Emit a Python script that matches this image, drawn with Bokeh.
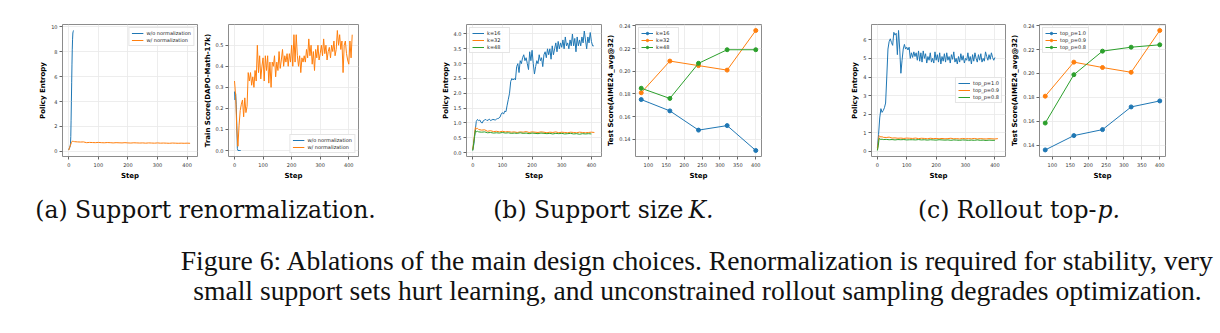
from bokeh.plotting import figure
from bokeh.models import (Range1d, FixedTicker, PrintfTickFormatter, Legend,
                          LegendItem, Label)
from bokeh.layouts import row, column
from bokeh.embed import file_html
from bokeh.resources import INLINE

BLUE, ORANGE, GREEN = "#1f77b4", "#ff7f0e", "#2ca02c"

STEP_TICKS = [0, 100, 200, 300, 400]
EVAL_TICKS = [100, 150, 200, 250, 300, 350, 400]

# ---------------- (a) support renormalization ----------------
a_wo_steps = [0, 1, 2, 3, 4, 5, 6, 7, 8, 9, 10, 11, 12, 13, 14, 15, 16]
a_wo_entropy = [0.12, 0.18, 0.25, 0.3, 0.35, 0.45, 0.6, 1.2, 2.5, 4.0, 5.5,
                7.0, 8.2, 9.0, 9.5, 9.6, 9.7]

flat_steps = [0, 3, 6, 9, 12, 16] + list(range(20, 420, 10))

a_w_entropy = [0.1, 0.3, 0.5, 0.7, 0.82, 0.8,
               0.78, 0.76, 0.75, 0.76, 0.70, 0.72, 0.71, 0.70, 0.72, 0.70,
               0.69, 0.71, 0.70, 0.68, 0.70, 0.69, 0.68, 0.70, 0.68, 0.67,
               0.69, 0.68, 0.67, 0.68, 0.66, 0.68, 0.67, 0.66, 0.68, 0.66,
               0.67, 0.66, 0.65, 0.67, 0.66, 0.65, 0.66, 0.65, 0.66, 0.65]

a_wo_score_steps = [0, 2, 4, 6, 8, 10, 12, 16, 20, 22]
a_wo_score = [0.28, 0.24, 0.27, 0.22, 0.12, 0.01, 0.0, 0.0, 0.0, 0.0]

score_steps = list(range(0, 416, 4))
a_w_score = [0.33, 0.26, 0.10, 0.02, 0.12, 0.19, 0.22, 0.24, 0.16, 0.25,
             0.18, 0.21, 0.37, 0.33, 0.37, 0.31, 0.35, 0.30, 0.38, 0.33,
             0.50, 0.37, 0.45, 0.34, 0.40, 0.44, 0.33, 0.45, 0.38, 0.45,
             0.32, 0.42, 0.30, 0.42, 0.40, 0.45, 0.35, 0.42, 0.38, 0.47,
             0.39, 0.43, 0.48, 0.40, 0.45, 0.42, 0.46, 0.40, 0.46, 0.42,
             0.50, 0.40, 0.55, 0.42, 0.55, 0.45, 0.40, 0.45, 0.37, 0.44,
             0.42, 0.45, 0.42, 0.48, 0.44, 0.53, 0.45, 0.50, 0.41, 0.47,
             0.38, 0.48, 0.44, 0.50, 0.43, 0.46, 0.50, 0.45, 0.53, 0.46,
             0.50, 0.43, 0.47, 0.49, 0.44, 0.50, 0.47, 0.52, 0.45, 0.48,
             0.57, 0.50, 0.55, 0.48, 0.52, 0.37, 0.50, 0.52, 0.46, 0.43,
             0.41, 0.52, 0.44, 0.55]

# ---------------- (b) support size K ----------------
b_k16_steps = list(range(0, 412, 4))
b_k16_entropy = [0.08, 0.3, 0.7, 1.05, 1.12, 1.08, 1.1, 1.02, 1.0, 1.08,
                 1.1, 1.12, 1.08, 1.1, 1.13, 1.08, 1.1, 1.12, 1.11, 1.1,
                 1.13, 1.15, 1.16, 1.2, 1.3, 1.35, 1.3, 1.4, 1.38, 1.6,
                 1.8, 2.0, 2.4, 2.5, 2.45, 2.5, 2.45, 2.9, 3.0, 2.7,
                 3.1, 3.0, 3.2, 3.3, 3.1, 3.2, 3.0, 2.8, 3.4, 3.1,
                 3.45, 3.0, 2.65, 2.9, 3.1, 3.0, 3.3, 3.1, 3.2, 2.9,
                 3.3, 3.4, 3.2, 3.5, 3.3, 3.5, 3.15, 3.6, 3.3, 3.5,
                 3.7, 3.4, 3.75, 3.5, 3.7, 3.55, 3.8, 3.5, 3.9, 3.6,
                 3.7, 3.5, 3.8, 3.6, 4.0, 3.6, 3.85, 3.4, 3.9, 3.6,
                 3.8, 3.6, 3.9, 3.7, 4.1, 3.8, 3.5, 3.9, 3.7, 4.05,
                 3.75, 3.6, 3.6]
b_k32_entropy = [0.1, 0.35, 0.6, 0.85, 0.8, 0.82,
                 0.78, 0.76, 0.77, 0.72, 0.74, 0.71, 0.72, 0.70, 0.72, 0.70,
                 0.71, 0.69, 0.70, 0.68, 0.70, 0.69, 0.71, 0.68, 0.70, 0.69,
                 0.68, 0.70, 0.69, 0.67, 0.69, 0.68, 0.70, 0.67, 0.69, 0.68,
                 0.67, 0.69, 0.68, 0.67, 0.69, 0.68, 0.67, 0.68, 0.69, 0.68]
b_k48_entropy = [0.07, 0.3, 0.55, 0.75, 0.7, 0.72,
                 0.70, 0.69, 0.70, 0.67, 0.68, 0.66, 0.67, 0.66, 0.68, 0.66,
                 0.67, 0.65, 0.66, 0.65, 0.67, 0.65, 0.66, 0.64, 0.66, 0.65,
                 0.64, 0.66, 0.65, 0.64, 0.65, 0.63, 0.65, 0.64, 0.65, 0.63,
                 0.64, 0.65, 0.63, 0.64, 0.62, 0.64, 0.63, 0.64, 0.63]

eval_steps = [80, 160, 240, 320, 400]
b_k16_test = [0.175, 0.165, 0.148, 0.152, 0.130]
b_k32_test = [0.181, 0.209, 0.205, 0.201, 0.236]
b_k48_test = [0.185, 0.176, 0.207, 0.219, 0.219]

# ---------------- (c) rollout top-p ----------------
c_p10_steps = list(range(0, 404, 4))
c_p10_entropy = [0.2, 0.9, 1.8, 2.3, 2.1, 2.2, 2.35, 2.6, 4.0, 5.5,
                 5.9, 6.05, 5.85, 5.7, 6.4, 6.25, 6.35, 5.2, 6.5, 5.5,
                 4.2, 4.9, 5.5, 5.75, 5.5, 5.6, 5.45, 5.6, 5.0, 5.3,
                 5.05, 5.35, 5.1, 5.3, 4.9, 5.4, 4.85, 5.3, 4.8, 5.4,
                 5.0, 5.25, 4.75, 5.1, 4.9, 5.3, 4.8, 5.0, 4.75, 5.35,
                 4.9, 5.2, 4.8, 5.3, 4.7, 5.1, 4.85, 5.25, 4.8, 5.3,
                 4.9, 5.1, 4.75, 5.2, 4.95, 5.35, 4.8, 5.0, 4.7, 5.1,
                 4.8, 5.25, 4.9, 5.15, 4.75, 5.0, 4.9, 5.3, 4.85, 5.1,
                 4.7, 5.2, 4.85, 5.3, 5.0, 4.8, 5.2, 4.9, 5.25, 4.8,
                 5.0, 4.85, 5.35, 5.1, 4.9, 5.2, 4.95, 5.3, 5.05, 4.9,
                 5.05]
c_p09_entropy = [0.1, 0.5, 0.85, 0.8, 0.78, 0.79,
                 0.76, 0.75, 0.77, 0.72, 0.73, 0.71, 0.72, 0.70, 0.72, 0.71,
                 0.70, 0.72, 0.69, 0.71, 0.70, 0.68, 0.71, 0.69, 0.70, 0.68,
                 0.70, 0.68, 0.69, 0.71, 0.68, 0.69, 0.67, 0.70, 0.68, 0.69,
                 0.68, 0.70, 0.67, 0.69, 0.68, 0.67, 0.69, 0.68, 0.67, 0.69]
c_p08_entropy = [0.05, 0.3, 0.7, 0.66, 0.65, 0.66,
                 0.64, 0.65, 0.63, 0.64, 0.62, 0.64, 0.63, 0.64, 0.62, 0.63,
                 0.63, 0.62, 0.64, 0.62, 0.63, 0.61, 0.63, 0.62, 0.61, 0.63,
                 0.62, 0.61, 0.62, 0.60, 0.62, 0.61, 0.60, 0.62, 0.61, 0.60,
                 0.61, 0.60, 0.62, 0.60, 0.61, 0.59, 0.61, 0.60, 0.60]

c_p10_test = [0.136, 0.148, 0.153, 0.172, 0.177]
c_p09_test = [0.181, 0.2095, 0.205, 0.201, 0.236]
c_p08_test = [0.1585, 0.199, 0.2187, 0.222, 0.224]

SUBCAPTIONS = ["(a) Support renormalization.", "(b) Support size", "K.",
               "(c) Rollout top-", "p."]
CAPTION = ["Figure 6: Ablations of the main design choices. Renormalization is required for stability, very",
           "small support sets hurt learning, and unconstrained rollout sampling degrades optimization."]

PANEL_H = 185


def panel(width, left, right, xr, yr, xticks, yticks, yfmt, ylabel):
    p = figure(width=width, height=PANEL_H, x_range=Range1d(*xr),
               y_range=Range1d(*yr), output_backend="svg",
               toolbar_location=None, min_border_left=left,
               min_border_right=right, min_border_top=24,
               min_border_bottom=29)
    p.background_fill_color = "white"
    p.border_fill_color = "white"
    p.outline_line_color = "#8c8c8c"
    p.outline_line_width = 1
    for ax, ticks, fmt in ((p.xaxis[0], xticks, "%d"),
                           (p.yaxis[0], yticks, yfmt)):
        ax.ticker = FixedTicker(ticks=ticks)
        ax.formatter = PrintfTickFormatter(format=fmt)
        ax.axis_line_color = None
        ax.major_tick_line_color = "#666666"
        ax.major_tick_out = 3
        ax.major_tick_in = 0
        ax.minor_tick_line_color = None
        ax.major_label_text_font = "DejaVu Sans"
        ax.major_label_text_font_size = "5px"
        ax.major_label_text_color = "#333333"
        ax.axis_label_text_font = "DejaVu Sans"
        ax.axis_label_text_font_style = "bold"
        ax.axis_label_text_font_size = "7px"
        ax.axis_label_text_color = "#000000"
    p.xaxis.major_label_standoff = 3
    p.yaxis.major_label_standoff = 2
    p.xaxis.axis_label_standoff = 2
    p.yaxis.axis_label_standoff = 1
    p.xaxis.axis_label = "Step"
    p.yaxis.axis_label = ylabel
    p.grid.grid_line_color = "#e8e8e8"
    p.grid.grid_line_width = 0.8
    return p


def add_legend(p, items, location):
    leg = Legend(items=[LegendItem(label=lab, renderers=rs) for lab, rs in items],
                 location=location)
    leg.label_text_font = "DejaVu Sans"
    leg.label_text_font_size = "5px"
    leg.label_text_color = "#222222"
    leg.glyph_width = 12
    leg.glyph_height = 6
    leg.label_height = 6
    leg.label_standoff = 3
    leg.spacing = 1
    leg.padding = 2
    leg.margin = 3
    leg.border_line_color = "#cccccc"
    leg.border_line_width = 0.8
    leg.background_fill_alpha = 0.85
    p.add_layout(leg)


def curve(p, x, y, color):
    return p.line(x[:len(y)], y, line_color=color, line_width=1)


def eval_curve(p, y, color):
    r1 = p.line(eval_steps, y, line_color=color, line_width=1)
    r2 = p.scatter(eval_steps, y, size=4, fill_color=color, line_color=color)
    return [r1, r2]


# (a) left: entropy
pa1 = panel(200, 62, 3, (-21, 435), (-0.41, 10.18), STEP_TICKS,
            [0, 2, 4, 6, 8, 10], "%d", "Policy Entropy")
ra1 = curve(pa1, a_wo_steps, a_wo_entropy, BLUE)
ra2 = curve(pa1, flat_steps, a_w_entropy, ORANGE)
add_legend(pa1, [("w/o normalization", [ra1]), ("w/ normalization", [ra2])],
           "top_right")

# (a) right: train score
pa2 = panel(230, 23, 72, (-21, 434), (-0.0285, 0.5985), STEP_TICKS,
            [0.0, 0.1, 0.2, 0.3, 0.4, 0.5], "%.1f", "Train Score(DAPO-Math-17k)")
ra3 = curve(pa2, a_wo_score_steps, a_wo_score, BLUE)
ra4 = curve(pa2, score_steps, a_w_score, ORANGE)
add_legend(pa2, [("w/o normalization", [ra3]), ("w/ normalization", [ra4])],
           "bottom_right")

# (b) left: entropy
pb1 = panel(174, 36, 3, (-21, 434), (-0.13, 4.32), STEP_TICKS,
            [0.0, 0.5, 1.0, 1.5, 2.0, 2.5, 3.0, 3.5, 4.0], "%.1f", "Policy Entropy")
rb1 = curve(pb1, b_k16_steps, b_k16_entropy, BLUE)
rb2 = curve(pb1, flat_steps, b_k32_entropy, ORANGE)
rb3 = curve(pb1, flat_steps, b_k48_entropy, GREEN)
add_legend(pb1, [("k=16", [rb1]), ("k=32", [rb2]), ("k=48", [rb3])], "top_left")

# (b) right: test score
pb2 = panel(216, 23, 59, (64, 416), (0.1247, 0.2413), EVAL_TICKS,
            [0.14, 0.16, 0.18, 0.20, 0.22, 0.24], "%.2f", "Test Score(AIME24_avg@32)")
sb1 = eval_curve(pb2, b_k16_test, BLUE)
sb2 = eval_curve(pb2, b_k32_test, ORANGE)
sb3 = eval_curve(pb2, b_k48_test, GREEN)
add_legend(pb2, [("k=16", sb1), ("k=32", sb2), ("k=48", sb3)], "top_left")

# (c) left: entropy
pc1 = panel(188, 51, 3, (-20, 436), (-0.27, 6.82), STEP_TICKS,
            [0, 1, 2, 3, 4, 5, 6], "%d", "Policy Entropy")
rc1 = curve(pc1, c_p10_steps, c_p10_entropy, BLUE)
rc2 = curve(pc1, flat_steps, c_p09_entropy, ORANGE)
rc3 = curve(pc1, flat_steps, c_p08_entropy, GREEN)
add_legend(pc1, [("top_p=1.0", [rc1]), ("top_p=0.9", [rc2]), ("top_p=0.8", [rc3])],
           "center_right")

# (c) right: test score
pc2 = panel(212, 23, 55, (64, 416), (0.1305, 0.2410), EVAL_TICKS,
            [0.14, 0.16, 0.18, 0.20, 0.22, 0.24], "%.2f", "Test Score(AIME24_avg@32)")
sc1 = eval_curve(pc2, c_p10_test, BLUE)
sc2 = eval_curve(pc2, c_p09_test, ORANGE)
sc3 = eval_curve(pc2, c_p08_test, GREEN)
add_legend(pc2, [("top_p=1.0", sc1), ("top_p=0.9", sc2), ("top_p=0.8", sc3)],
           "top_left")

# captions underneath the panels
cap = figure(width=1220, height=333 - PANEL_H, x_range=Range1d(0, 1220),
             y_range=Range1d(333 - PANEL_H, 0), output_backend="svg",
             toolbar_location=None, min_border=0)
cap.axis.visible = False
cap.grid.visible = False
cap.outline_line_color = None
cap.background_fill_color = "white"
cap.border_fill_color = "white"

SUB_FONT = "DejaVu Serif"
sub_specs = [
    (SUBCAPTIONS[0], 205, "center", "normal"),
    (SUBCAPTIONS[1], 683, "right", "normal"),
    (SUBCAPTIONS[2], 688, "left", "italic"),
    (SUBCAPTIONS[3], 1096, "right", "normal"),
    (SUBCAPTIONS[4], 1097, "left", "italic"),
]
for txt, x, align, style in sub_specs:
    cap.add_layout(Label(x=x, y=24, text=txt, text_font=SUB_FONT,
                         text_font_size="23.5px", text_font_style=style,
                         text_align=align, text_baseline="alphabetic",
                         text_color="#111111"))

for i, line in enumerate(CAPTION):
    cap.add_layout(Label(x=697, y=75 + 30 * i, text=line,
                         text_font="Liberation Serif", text_font_size="27.6px",
                         text_align="center", text_baseline="alphabetic",
                         text_color="#111111"))

layout = column(row(pa1, pa2, pb1, pb2, pc1, pc2), cap)

with open("out.html", "w") as f:
    f.write(file_html(layout, INLINE))
